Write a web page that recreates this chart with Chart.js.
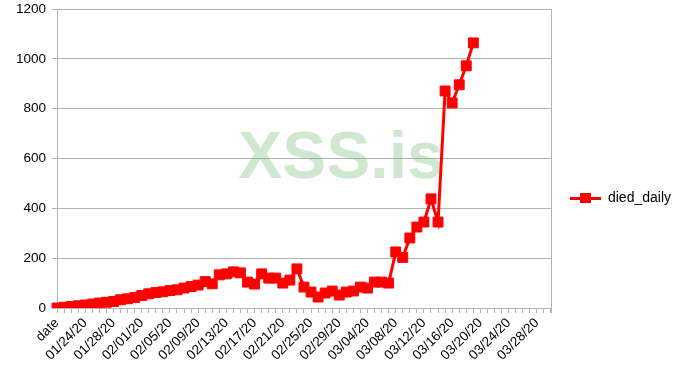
<!DOCTYPE html>
<html>
<head>
<meta charset="utf-8">
<script src="https://cdn.jsdelivr.net/npm/chart.js@4/dist/chart.umd.min.js"></script>
<style>
	html, body { margin: 0; padding: 0; background: #fff; }
	#wrap { position: relative; width: 687px; height: 387px; }
</style>
</head>
<body>
<div id="wrap"><canvas id="chart" width="687" height="387"></canvas></div>
<script>
var dates = [
	"date",
	"01/21/20", "01/22/20", "01/23/20", "01/24/20", "01/25/20", "01/26/20", "01/27/20", "01/28/20",
	"01/29/20", "01/30/20", "01/31/20",
	"02/01/20", "02/02/20", "02/03/20", "02/04/20", "02/05/20", "02/06/20", "02/07/20", "02/08/20",
	"02/09/20", "02/10/20", "02/11/20", "02/12/20", "02/13/20", "02/14/20", "02/15/20", "02/16/20",
	"02/17/20", "02/18/20", "02/19/20", "02/20/20", "02/21/20", "02/22/20", "02/23/20", "02/24/20",
	"02/25/20", "02/26/20", "02/27/20", "02/28/20", "02/29/20",
	"03/01/20", "03/02/20", "03/03/20", "03/04/20", "03/05/20", "03/06/20", "03/07/20", "03/08/20",
	"03/09/20", "03/10/20", "03/11/20", "03/12/20", "03/13/20", "03/14/20", "03/15/20", "03/16/20",
	"03/17/20", "03/18/20", "03/19/20", "03/20/20", "03/21/20", "03/22/20", "03/23/20", "03/24/20",
	"03/25/20", "03/26/20", "03/27/20", "03/28/20", "03/29/20", "03/30/20"
];

// one per date up to 03/19/20
var diedDaily = [
	0, 3, 6, 9, 12, 16, 20, 23, 26, 33,
	37, 42, 50, 57, 62, 65, 70, 73, 80, 86,
	92, 106, 97, 133, 137, 145, 141, 104, 96, 137,
	120, 120, 100, 112, 157, 84, 64, 44, 60, 68,
	52, 64, 68, 84, 80, 104, 104, 100, 225, 203,
	281, 325, 345, 438, 345, 871, 823, 896, 972, 1064
];

var yTicks = [0, 200, 400, 600, 800, 1000, 1200];
var seriesName = "died_daily";
var watermark = "XSS.is";

var RED = "#ff0000";
var GRID = "#b3b3b3";
var FONT = "'Liberation Sans', Arial, sans-serif";

// legend symbol: a line with a square on it
var legendIcon = document.createElement("canvas");
legendIcon.width = 31;
legendIcon.height = 12;
(function () {
	var c = legendIcon.getContext("2d");
	c.fillStyle = RED;
	c.fillRect(0, 5, 31, 3);
	c.fillRect(10, 1, 11, 10);
})();

var extras = {
	id: "extras",
	beforeDatasetsDraw: function (chart) {
		var ctx = chart.ctx;
		var area = chart.chartArea;
		ctx.save();
		ctx.font = "bold 66px " + FONT;
		ctx.fillStyle = "rgba(120, 190, 120, 0.35)";
		ctx.textAlign = "center";
		ctx.textBaseline = "middle";
		ctx.fillText(watermark, 341, 160);
		// right side of the plot frame
		ctx.strokeStyle = GRID;
		ctx.lineWidth = 1;
		ctx.beginPath();
		ctx.moveTo(Math.round(area.right) + 0.5, area.top);
		ctx.lineTo(Math.round(area.right) + 0.5, area.bottom + 5);
		ctx.stroke();
		ctx.restore();
	},
};

new Chart(document.getElementById("chart"), {
	type: "line",
	data: {
		labels: dates,
		datasets: [{
			label: seriesName,
			data: diedDaily,
			borderColor: RED,
			backgroundColor: RED,
			borderWidth: 3,
			pointStyle: "rect",
			pointRadius: 7,
			pointBorderWidth: 1,
			pointHoverRadius: 7,
			fill: false,
			tension: 0,
		}],
	},
	options: {
		responsive: false,
		animation: false,
		events: [],
		layout: { padding: { top: 9, right: 6, left: 0, bottom: 0 } },
		plugins: {
			tooltip: { enabled: false },
			legend: {
				position: "right",
				labels: {
					usePointStyle: true,
					pointStyle: legendIcon,
					pointStyleWidth: 31,
					boxHeight: 12,
					color: "#000",
					font: { family: FONT, size: 14 },
					padding: 19,
					generateLabels: function (chart) {
						return [{
							text: seriesName,
							pointStyle: legendIcon,
							fillStyle: RED,
							strokeStyle: RED,
							lineWidth: 0,
							fontColor: "#000",
							datasetIndex: 0,
						}];
					},
				},
			},
		},
		scales: {
			x: {
				offset: false,
				grid: {
					drawOnChartArea: false,
					drawTicks: true,
					tickLength: 5,
					color: GRID,
				},
				border: { color: GRID },
				ticks: {
					autoSkip: false,
					maxRotation: 45,
					minRotation: 45,
					padding: 2,
					color: "#000",
					font: { family: FONT, size: 13.5 },
					callback: function (value, index) {
						return index % 4 === 0 ? dates[index] : "";
					},
				},
				afterFit: function (scale) {
					scale.height = 79;
				},
			},
			y: {
				min: 0,
				max: 1200,
				afterBuildTicks: function (scale) {
					scale.ticks = yTicks.map(function (v) { return { value: v }; });
				},
				grid: {
					color: GRID,
					tickLength: 5,
				},
				border: { color: GRID },
				ticks: {
					padding: 6,
					color: "#000",
					font: { family: FONT, size: 13.5 },
					callback: function (value) {
						return String(value);
					},
				},
				afterFit: function (scale) {
					scale.width = 57;
					scale.paddingTop = 0;
					scale.paddingBottom = 0;
				},
			},
		},
	},
	plugins: [extras],
});
</script>
</body>
</html>
